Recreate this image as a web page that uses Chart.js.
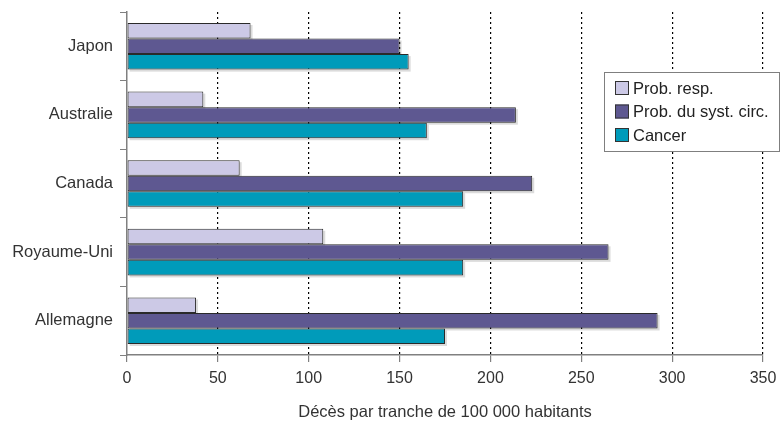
<!DOCTYPE html>
<html>
<head>
<meta charset="utf-8">
<script src="https://cdn.jsdelivr.net/npm/chart.js@4/dist/chart.umd.min.js"></script>
<style>
  html, body { margin: 0; padding: 0; background: #ffffff; }
  #wrap { width: 780px; height: 424px; position: relative; }
</style>
</head>
<body>
<div id="wrap"><canvas id="c" width="780" height="424"></canvas></div>
<script>
// Mortalité par cause, décès pour 100 000 habitants
const countries = ['Japon', 'Australie', 'Canada', 'Royaume-Uni', 'Allemagne'];
const respiratory = [68, 42, 62, 108, 38];
const circulatory = [150, 214, 223, 265, 292];
const cancer = [155, 165, 185, 185, 175];
const seriesNames = ['Prob. resp.', 'Prob. du syst. circ.', 'Cancer'];
const xTicks = [0, 50, 100, 150, 200, 250, 300, 350];
const axisTitle = 'Décès par tranche de 100 000 habitants';

const colors = ['#CCC9E6', '#5E5891', '#009BBA'];
const FONT = '"Liberation Sans", Arial, sans-serif';

// Boxed legend drawn in the upper right of the plot
const boxLegend = {
  id: 'boxLegend',
  afterDraw(chart) {
    const ctx = chart.ctx;
    const x0 = 604, y0 = 72, w = 176, h = 80;
    ctx.save();
    ctx.fillStyle = '#ffffff';
    ctx.fillRect(x0, y0, w, h);
    ctx.strokeStyle = '#7f7f7f';
    ctx.lineWidth = 1;
    ctx.strokeRect(x0 + 0.5, y0 + 0.5, w - 1, h - 1);
    ctx.font = '16.5px ' + FONT;
    ctx.textBaseline = 'middle';
    chart.data.datasets.forEach((ds, i) => {
      const cy = y0 + 16 + i * 23.5;
      ctx.fillStyle = ds.backgroundColor;
      ctx.fillRect(x0 + 11, cy - 7, 14, 14);
      ctx.strokeStyle = '#333333';
      ctx.strokeRect(x0 + 11.5, cy - 6.5, 13, 13);
      ctx.fillStyle = '#222222';
      ctx.fillText(ds.label, x0 + 29, cy + 1);
    });
    ctx.restore();
  }
};

// Soft grey shadow under each bar
const barShadow = {
  id: 'barShadow',
  beforeDatasetsDraw(chart) {
    const ctx = chart.ctx;
    ctx.save();
    ctx.fillStyle = 'rgba(0,0,0,0.14)';
    chart.data.datasets.forEach((ds, di) => {
      chart.getDatasetMeta(di).data.forEach(bar => {
        const top = bar.y - bar.height / 2;
        ctx.fillRect(bar.base + 2, top + 2, bar.x - bar.base, bar.height);
      });
    });
    ctx.restore();
  }
};

new Chart(document.getElementById('c'), {
  type: 'bar',
  data: {
    labels: countries,
    datasets: [
      { label: seriesNames[0], data: respiratory, backgroundColor: colors[0] },
      { label: seriesNames[1], data: circulatory, backgroundColor: colors[1] },
      { label: seriesNames[2], data: cancer, backgroundColor: colors[2] }
    ]
  },
  options: {
    indexAxis: 'y',
    responsive: false,
    animation: false,
    devicePixelRatio: 1,
    layout: { padding: { top: 12, right: 17, bottom: 2, left: 0 } },
    datasets: {
      bar: {
        categoryPercentage: 0.68,
        barPercentage: 1.0,
        borderColor: '#2a2a2a',
        borderWidth: 1,
        borderSkipped: false
      }
    },
    plugins: {
      legend: { display: false },
      tooltip: { enabled: false }
    },
    scales: {
      x: {
        min: 0,
        max: 350,
        afterBuildTicks(scale) { scale.ticks = xTicks.map(v => ({ value: v })); },
        afterFit(scale) { scale.paddingLeft = 0; scale.paddingRight = 0; },
        border: { color: '#808080', width: 1.5, dash: [2, 3] },
        grid: {
          color: ctx => ctx.index === 0 ? 'rgba(0,0,0,0)' : '#000000',
          lineWidth: 1.2,
          tickColor: '#808080',
          tickLength: 7,
          tickBorderDash: [],
          drawTicks: true
        },
        ticks: {
          color: '#333333',
          font: { family: FONT, size: 16 },
          padding: 7,
          maxRotation: 0
        },
        title: {
          display: true,
          text: axisTitle,
          color: '#333333',
          font: { family: FONT, size: 16.5 },
          padding: { top: 7, bottom: 0 }
        }
      },
      y: {
        afterFit(scale) { scale.width = 127; scale.paddingTop = 0; scale.paddingBottom = 0; },
        border: { color: '#808080', width: 1.5 },
        grid: {
          drawOnChartArea: false,
          drawTicks: true,
          tickLength: 7,
          color: '#808080'
        },
        ticks: {
          color: '#333333',
          font: { family: FONT, size: 16.5 },
          padding: 7
        }
      }
    }
  },
  plugins: [barShadow, boxLegend]
});
</script>
</body>
</html>
